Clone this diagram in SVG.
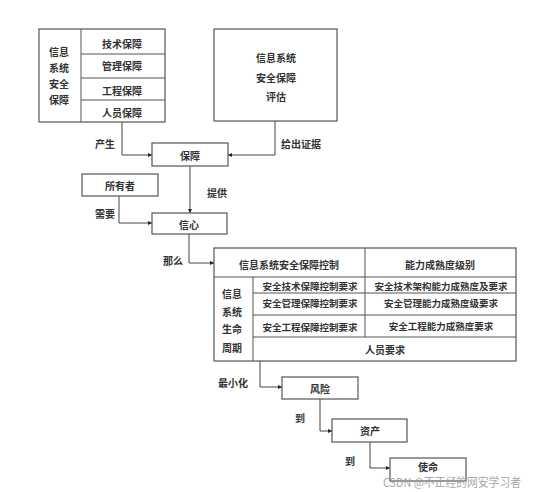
<svg xmlns="http://www.w3.org/2000/svg" width="537" height="492" viewBox="0 0 537 492">
<defs>
<marker id="ah" viewBox="0 0 6 6" refX="6" refY="3" markerWidth="4" markerHeight="4" orient="auto" markerUnits="userSpaceOnUse">
<path d="M0,0 L6,3 L0,6 z" fill="#222"/>
</marker>
<style>
.bx{fill:#fff;stroke:#555;stroke-width:1.2}
.ln{fill:none;stroke:#555;stroke-width:1}
.t{font-family:"Noto Sans CJK SC","Noto Sans",sans-serif;font-size:10px;font-weight:bold;fill:#333;text-anchor:middle;dominant-baseline:central}
.s{font-size:9.5px}
.c{fill:none;stroke:#444;stroke-width:1;marker-end:url(#ah)}
.wm{font-family:"Noto Sans CJK SC","Noto Sans",sans-serif;font-size:12px;fill:#999;opacity:0.85}
</style>
</defs>
<rect width="537" height="492" fill="#fff"/>

<g id="connectors">
<path class="c" d="M122,122 V155 H152"/>
<path class="c" d="M275,121 V155 H228"/>
<path class="c" d="M190,166 V213"/>
<path class="c" d="M119,196 V223 H152"/>
<path class="c" d="M189,234 V263 H214"/>
<path class="c" d="M260,361 V387 H282"/>
<path class="c" d="M320,399 V431 H332"/>
<path class="c" d="M370,442 V468 H390"/>
<text class="t" x="105" y="143">产生</text>
<text class="t" x="301" y="143">给出证据</text>
<text class="t" x="217" y="192">提供</text>
<text class="t" x="105" y="213">需要</text>
<text class="t" x="173" y="260">那么</text>
<text class="t" x="233" y="382">最小化</text>
<text class="t" x="300" y="417">到</text>
<text class="t" x="350" y="460">到</text>
</g>

<g id="assurance-elements">
<rect class="bx" x="39" y="29" width="126" height="93"/>
<path class="ln" d="M81,29 V122 M81,54 H165 M81,78 H165 M81,100 H165"/>
<text class="t" x="59" y="51">信息</text>
<text class="t" x="59" y="67">系统</text>
<text class="t" x="59" y="83">安全</text>
<text class="t" x="59" y="99">保障</text>
<text class="t" x="122" y="43">技术保障</text>
<text class="t" x="122" y="65">管理保障</text>
<text class="t" x="122" y="90">工程保障</text>
<text class="t" x="122" y="112">人员保障</text>
</g>

<g id="evaluation">
<rect class="bx" x="214" y="29" width="123" height="92"/>
<text class="t" x="276" y="57">信息系统</text>
<text class="t" x="276" y="77">安全保障</text>
<text class="t" x="276" y="96">评估</text>
</g>

<g id="assurance">
<rect class="bx" x="152" y="143" width="76" height="23"/>
<text class="t" x="190" y="155">保障</text>
</g>

<g id="owner">
<rect class="bx" x="82" y="174" width="76" height="22"/>
<text class="t" x="120" y="185">所有者</text>
</g>

<g id="confidence">
<rect class="bx" x="152" y="213" width="75" height="21"/>
<text class="t" x="189" y="224">信心</text>
</g>

<g id="control-table">
<rect class="bx" x="214" y="248" width="302" height="113"/>
<path class="ln" d="M214,277 H516 M365,248 V337 M253,277 V361 M253,293 H516 M253,315 H516 M253,337 H516"/>
<text class="t" x="289" y="264">信息系统安全保障控制</text>
<text class="t" x="440" y="264">能力成熟度级别</text>
<text class="t" x="232" y="293">信息</text>
<text class="t" x="232" y="311">系统</text>
<text class="t" x="232" y="328">生命</text>
<text class="t" x="232" y="347">周期</text>
<text class="t s" x="310" y="286">安全技术保障控制要求</text>
<text class="t s" x="441" y="286">安全技术架构能力成熟度及要求</text>
<text class="t s" x="310" y="303">安全管理保障控制要求</text>
<text class="t s" x="441" y="303">安全管理能力成熟度级要求</text>
<text class="t s" x="310" y="327">安全工程保障控制要求</text>
<text class="t s" x="441" y="326">安全工程能力成熟度要求</text>
<text class="t" x="385" y="349">人员要求</text>
</g>

<g id="risk">
<rect class="bx" x="282" y="377" width="76" height="22"/>
<text class="t" x="320" y="388">风险</text>
</g>

<g id="asset">
<rect class="bx" x="332" y="419" width="75" height="23"/>
<text class="t" x="370" y="430">资产</text>
</g>

<g id="mission">
<rect class="bx" x="390" y="458" width="76" height="23"/>
<text class="t" x="428" y="466">使命</text>
</g>

<text class="wm" x="383" y="487" textLength="138" lengthAdjust="spacingAndGlyphs">CSDN @不正经的网安学习者</text>
</svg>
